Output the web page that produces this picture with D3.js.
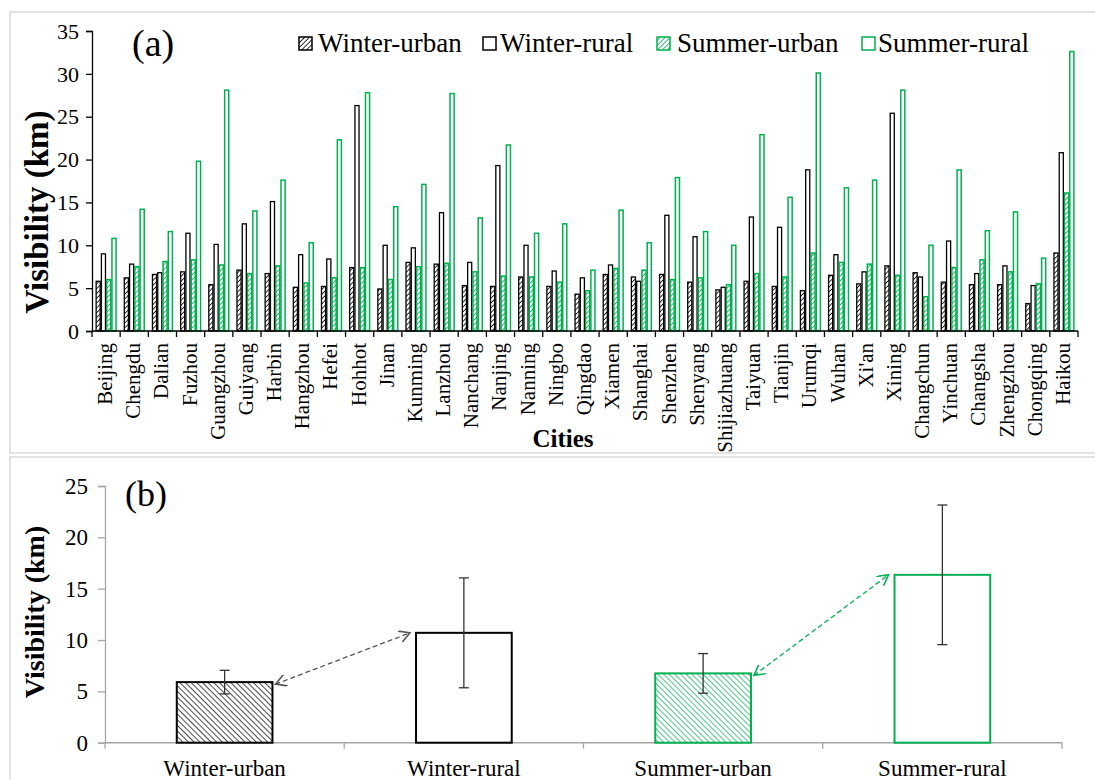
<!DOCTYPE html>
<html>
<head>
<meta charset="utf-8">
<script src="https://cdn.jsdelivr.net/npm/d3@7"></script>
<style>
  html, body { margin: 0; padding: 0; background: #fff; }
  svg { display: block; }
  text { font-family: "Liberation Serif", "Times New Roman", serif; fill: #000; }
</style>
</head>
<body>
<svg id="chart" width="1095" height="780"></svg>
<script>
// City-level mean visibility (km), panel (a)
const cities = ["Beijing","Chengdu","Dalian","Fuzhou","Guangzhou","Guiyang","Harbin","Hangzhou","Hefei","Hohhot",
  "Jinan","Kunming","Lanzhou","Nanchang","Nanjing","Nanning","Ningbo","Qingdao","Xiamen","Shanghai",
  "Shenzhen","Shenyang","Shijiazhuang","Taiyuan","Tianjin","Urumqi","Wuhan","Xi'an","Xining","Changchun",
  "Yinchuan","Changsha","Zhengzhou","Chongqing","Haikou"];
const winterUrban = [5.8,6.2,6.6,6.9,5.4,7.1,6.7,5.1,5.2,7.4,4.9,8.0,7.8,5.3,5.2,6.3,5.2,4.3,6.6,6.3,6.6,5.7,4.8,5.8,5.2,4.7,6.5,5.5,7.6,6.8,5.7,5.4,5.4,3.2,9.1];
const winterRural = [9.0,7.8,6.8,11.4,10.1,12.5,15.1,8.9,8.4,26.3,10.0,9.7,13.8,8.0,19.3,10.0,7.0,6.2,7.7,5.8,13.5,11.0,5.1,13.3,12.1,18.8,8.9,6.9,25.4,6.3,10.5,6.7,7.6,5.3,20.8];
const summerUrban = [6.0,7.5,8.1,8.3,7.7,6.7,7.6,5.6,6.2,7.4,6.0,7.5,7.9,6.9,6.4,6.3,5.7,4.7,7.3,7.1,6.0,6.2,5.4,6.7,6.3,9.1,8.0,7.8,6.5,4.0,7.4,8.3,6.9,5.5,16.1];
const summerRural = [10.8,14.2,11.6,19.8,28.1,14.0,17.6,10.3,22.3,27.8,14.5,17.1,27.7,13.2,21.7,11.4,12.5,7.1,14.1,10.3,17.9,11.6,10.0,22.9,15.6,30.1,16.7,17.6,28.1,10.0,18.8,11.7,13.9,8.5,32.6];
const topTicks = [0,5,10,15,20,25,30,35];

// Overall means and standard deviations, panel (b)
const groups = ["Winter-urban","Winter-rural","Summer-urban","Summer-rural"];
const groupMean = [5.9, 10.7, 6.75, 16.35];
const groupSd = [1.15, 5.35, 1.93, 6.8];
const bottomTicks = [0,5,10,15,20,25];

const GREEN = "#00b050";
const series = [
  {key: "Winter-urban", values: winterUrban, stroke: "#000", fill: "url(#hatchBlack)"},
  {key: "Winter-rural", values: winterRural, stroke: "#000", fill: "#fff"},
  {key: "Summer-urban", values: summerUrban, stroke: GREEN, fill: "url(#hatchGreen)"},
  {key: "Summer-rural", values: summerRural, stroke: GREEN, fill: "#fff"}
];

const svg = d3.select("#chart");
const defs = svg.append("defs");
function hatch(id, color, size, angle, width) {
  const p = defs.append("pattern").attr("id", id)
    .attr("patternUnits", "userSpaceOnUse")
    .attr("width", size).attr("height", size)
    .attr("patternTransform", `rotate(${angle})`);
  p.append("rect").attr("width", size).attr("height", size).attr("fill", "#fff");
  p.append("line").attr("x1", 0).attr("y1", 0).attr("x2", 0).attr("y2", size)
    .attr("stroke", color).attr("stroke-width", width);
}
hatch("hatchBlack", "#000", 3.4, 45, 1.6);
hatch("hatchGreen", GREEN, 3.4, 45, 1.6);
hatch("hatchBlackB", "#000", 4.0, -45, 1.4);
hatch("hatchGreenB", GREEN, 4.0, -45, 1.4);
["arrowGrey", "arrowGreen"].forEach((id, i) => {
  defs.append("marker").attr("id", id)
    .attr("viewBox", "0 0 10 10").attr("refX", 9).attr("refY", 5)
    .attr("markerWidth", 12).attr("markerHeight", 12)
    .attr("markerUnits", "userSpaceOnUse")
    .attr("orient", "auto-start-reverse")
    .append("path").attr("d", "M0,0 L9,5 L0,10")
    .attr("fill", "none").attr("stroke", i ? GREEN : "#555").attr("stroke-width", 1.3);
});

// Panel frames
svg.append("rect").attr("x", 10).attr("y", 12).attr("width", 1100).attr("height", 441)
  .attr("fill", "none").attr("stroke", "#d9d9d9").attr("stroke-width", 1.5);
svg.append("rect").attr("x", 10).attr("y", 457).attr("width", 1100).attr("height", 340)
  .attr("fill", "none").attr("stroke", "#d9d9d9").attr("stroke-width", 1.5);

// ---------- Panel (a) ----------
const A = {left: 92, right: 1078, top: 31, bottom: 331};
const xA = d3.scaleBand().domain(cities).range([A.left, A.right]).padding(0);
const bw = xA.bandwidth();
const xSub = d3.scaleBand().domain(series.map(s => s.key)).range([bw * 0.125, bw * 0.875]).padding(0);
const yA = d3.scaleLinear().domain([0, 35]).range([A.bottom, A.top]);

const gA = svg.append("g");
series.forEach(s => {
  gA.append("g").selectAll("rect").data(s.values).join("rect")
    .attr("x", (d, i) => xA(cities[i]) + xSub(s.key) + 0.6)
    .attr("y", d => yA(d))
    .attr("width", xSub.bandwidth() - 1.2)
    .attr("height", d => yA(0) - yA(d))
    .attr("fill", s.fill).attr("stroke", s.stroke)
    .attr("stroke-width", s.stroke === GREEN ? 1.5 : 1.3);
});

// y axis
const yAxisA = gA.append("g").attr("transform", `translate(${A.left},0)`)
  .call(d3.axisLeft(yA).tickValues(topTicks).tickSize(6).tickPadding(7));
yAxisA.select(".domain").attr("stroke", "#000").attr("stroke-width", 1.3);
yAxisA.selectAll(".tick line").attr("stroke", "#000").attr("stroke-width", 1.3);
yAxisA.selectAll("text").style("font-size", "22px").style("font-family", "Liberation Serif, serif").attr("dy", "0.33em");

// x axis: ticks at band edges, rotated city names
const xAxisA = gA.append("g").attr("transform", `translate(0,${A.bottom})`);
xAxisA.append("line").attr("x1", A.left).attr("x2", A.right).attr("stroke", "#000").attr("stroke-width", 1.5);
xAxisA.selectAll("line.edge").data(d3.range(cities.length + 1)).join("line")
  .attr("class", "edge")
  .attr("x1", i => A.left + i * bw).attr("x2", i => A.left + i * bw)
  .attr("y1", 0).attr("y2", 6).attr("stroke", "#000").attr("stroke-width", 1.3);
xAxisA.selectAll("text").data(cities).join("text")
  .attr("transform", d => `translate(${xA(d) + bw / 2 + 6},12) rotate(-90)`)
  .attr("text-anchor", "end")
  .style("font-size", "21px")
  .text(d => d);

svg.append("text").attr("x", 563).attr("y", 447).attr("text-anchor", "middle")
  .style("font-size", "25px").style("font-weight", "bold").text("Cities");
svg.append("text").attr("transform", "translate(48,212) rotate(-90)").attr("text-anchor", "middle")
  .style("font-size", "33px").style("font-weight", "bold").text("Visibility (km)");
svg.append("text").attr("x", 132).attr("y", 56).style("font-size", "38px").text("(a)");

// legend
const legendX = [{ix: 299, tx: 318}, {ix: 483, tx: 500}, {ix: 657, tx: 677}, {ix: 862, tx: 878}];
const lg = svg.append("g");
series.forEach((s, i) => {
  lg.append("rect").attr("x", legendX[i].ix).attr("y", 37).attr("width", 13).attr("height", 13)
    .attr("fill", s.fill).attr("stroke", s.stroke).attr("stroke-width", 1.5);
  lg.append("text").attr("x", legendX[i].tx).attr("y", 52).style("font-size", "27px").text(s.key);
});

// ---------- Panel (b) ----------
const B = {left: 105, right: 1062, top: 486, bottom: 742.7};
const xB = d3.scaleBand().domain(groups).range([B.left, B.right]).padding(0);
const yB = d3.scaleLinear().domain([0, 25]).range([B.bottom, B.top]);
const bbw = xB.bandwidth() * 0.40;
const fillsB = ["url(#hatchBlackB)", "#fff", "url(#hatchGreenB)", "#fff"];
const strokesB = ["#000", "#000", GREEN, GREEN];
const cx = g => xB(g) + xB.bandwidth() / 2;

const gB = svg.append("g");
const yAxisB = gB.append("g").attr("transform", `translate(${B.left},0)`)
  .call(d3.axisLeft(yB).tickValues(bottomTicks).tickSize(7).tickPadding(10));
yAxisB.select(".domain").attr("stroke", "#a6a6a6").attr("stroke-width", 1.3);
yAxisB.selectAll(".tick line").attr("stroke", "#a6a6a6").attr("stroke-width", 1.3);
yAxisB.selectAll("text").style("font-size", "23px").style("font-family", "Liberation Serif, serif").attr("dy", "0.33em");

const xAxisB = gB.append("g").attr("transform", `translate(0,${B.bottom})`);
xAxisB.append("line").attr("x1", B.left).attr("x2", B.right).attr("stroke", "#a6a6a6").attr("stroke-width", 1.5);
xAxisB.selectAll("line.edge").data(d3.range(groups.length + 1)).join("line")
  .attr("class", "edge")
  .attr("x1", i => B.left + i * xB.bandwidth()).attr("x2", i => B.left + i * xB.bandwidth())
  .attr("y1", 0).attr("y2", 6).attr("stroke", "#a6a6a6").attr("stroke-width", 1.3);
xAxisB.selectAll("text").data(groups).join("text")
  .attr("x", d => cx(d)).attr("y", 33).attr("text-anchor", "middle")
  .style("font-size", "23px").text(d => d);

gB.selectAll("rect.bar").data(groups).join("rect").attr("class", "bar")
  .attr("x", d => cx(d) - bbw / 2)
  .attr("y", (d, i) => yB(groupMean[i]))
  .attr("width", bbw)
  .attr("height", (d, i) => yB(0) - yB(groupMean[i]))
  .attr("fill", (d, i) => fillsB[i]).attr("stroke", (d, i) => strokesB[i])
  .attr("stroke-width", 2);

// error bars (±1 SD)
groups.forEach((g, i) => {
  const x = cx(g), hi = yB(groupMean[i] + groupSd[i]), lo = yB(groupMean[i] - groupSd[i]);
  const eg = gB.append("g").attr("stroke", "#333").attr("stroke-width", 1.3);
  eg.append("line").attr("x1", x).attr("x2", x).attr("y1", hi).attr("y2", lo);
  eg.append("line").attr("x1", x - 5).attr("x2", x + 5).attr("y1", hi).attr("y2", hi);
  eg.append("line").attr("x1", x - 5).attr("x2", x + 5).attr("y1", lo).attr("y2", lo);
});

// dashed double-headed arrows between urban and rural means
[[0, 1, "#555", "arrowGrey"], [2, 3, GREEN, "arrowGreen"]].forEach(([a, b, col, mk]) => {
  gB.append("line")
    .attr("x1", cx(groups[a]) + bbw / 2 + 3).attr("y1", yB(groupMean[a]) + 2)
    .attr("x2", cx(groups[b]) - bbw / 2 - 6).attr("y2", yB(groupMean[b]))
    .attr("stroke", col).attr("stroke-width", 1.3).attr("stroke-dasharray", "5,3")
    .attr("marker-start", `url(#${mk})`).attr("marker-end", `url(#${mk})`);
});

svg.append("text").attr("transform", "translate(44,612) rotate(-90)").attr("text-anchor", "middle")
  .style("font-size", "28px").style("font-weight", "bold").text("Visibility (km)");
svg.append("text").attr("x", 125).attr("y", 506).style("font-size", "36px").text("(b)");
</script>
</body>
</html>
